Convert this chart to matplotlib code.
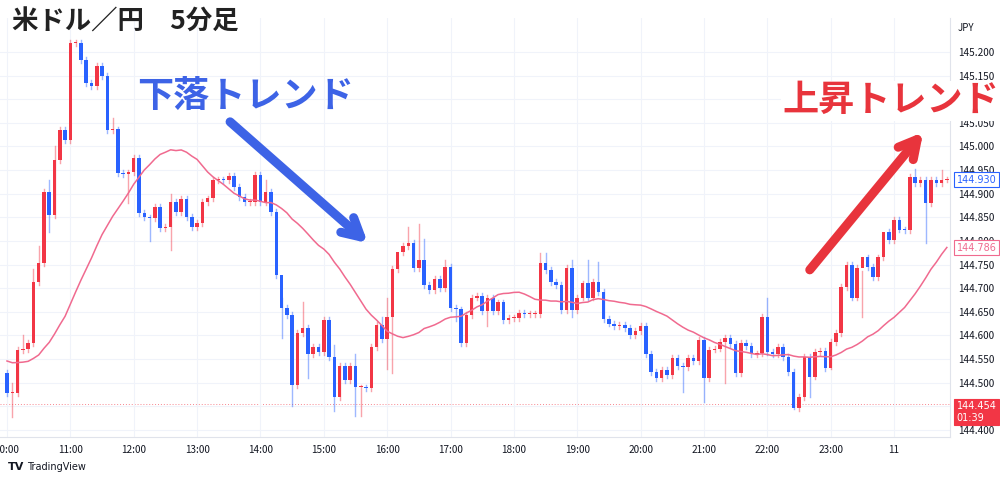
import numpy as np
import pandas as pd
import matplotlib.pyplot as plt
from matplotlib.patches import Rectangle

plt.rcParams['font.family'] = ['Noto Sans CJK JP', 'DejaVu Sans']

# USD/JPY 5-minute closes, 10:00 -> 00:50
closes = [
    144.478, 144.478, 144.569, 144.571, 144.584, 144.713, 144.753,
    144.903, 144.855, 144.971, 145.035, 145.013, 145.219, 145.22, 145.183,
    145.134, 145.128, 145.17, 145.149, 145.035, 145.036, 144.944,
    144.942, 144.945, 144.975,
    144.859, 144.85, 144.848, 144.872, 144.827, 144.83, 144.882, 144.861, 144.889, 144.851,
    144.829, 144.838, 144.882, 144.89, 144.929, 144.93, 144.929, 144.937, 144.914, 144.893,
    144.882, 144.882, 144.94, 144.882, 144.903, 144.861, 144.728,
    144.658, 144.643, 144.495, 144.605, 144.616, 144.56, 144.576, 144.565, 144.633, 144.555,
    144.47, 144.535, 144.505, 144.535, 144.49, 144.49, 144.488, 144.576, 144.622, 144.593,
    144.64, 144.74, 144.777, 144.79, 144.795, 144.743, 144.76, 144.707, 144.696, 144.72,
    144.70, 144.745, 144.658, 144.655, 144.584, 144.643, 144.68, 144.684, 144.652, 144.68,
    144.652, 144.67,
    144.633, 144.637, 144.637, 144.648, 144.645, 144.645, 144.645, 144.753, 144.738, 144.713,
    144.707, 144.654, 144.743, 144.654, 144.68, 144.71, 144.68, 144.713, 144.692, 144.635,
    144.625, 144.62, 144.622, 144.616, 144.6, 144.61, 144.62, 144.56, 144.523, 144.51,
    144.527, 144.516, 144.552, 144.535, 144.533, 144.552, 144.545, 144.59, 144.51, 144.57,
    144.572, 144.586, 144.595, 144.582, 144.52, 144.585, 144.577, 144.56, 144.562, 144.64,
    144.565, 144.56, 144.575, 144.555, 144.523, 144.447, 144.47, 144.555, 144.513, 144.565,
    144.567, 144.531, 144.586, 144.605, 144.703, 144.75, 144.68, 144.743, 144.765, 144.745,
    144.723, 144.765, 144.82, 144.802, 144.845, 144.824, 144.823, 144.935, 144.922, 144.93,
    144.88, 144.93, 144.922, 144.93, 144.93,
]
first_open = 144.521
# closes before 10:00, only used for the moving average
pre_closes = [144.57, 144.56, 144.55, 144.54, 144.56, 144.57, 144.55, 144.54, 144.53, 144.55,
              144.56, 144.57, 144.58, 144.56, 144.55, 144.54, 144.53, 144.55, 144.56, 144.55,
              144.54, 144.53, 144.52, 144.51]
# wick extremes that stand out (index -> price)
highs = {1: 144.50, 3: 144.60, 5: 144.74, 6: 144.79, 8: 144.93, 9: 145.0, 20: 145.06,
         31: 144.90, 49: 144.93, 52: 144.68, 56: 144.67, 62: 144.58, 66: 144.56, 71: 144.64,
         72: 144.68, 74: 144.75, 76: 144.83, 78: 144.835, 79: 144.805, 83: 144.76, 101: 144.775,
         102: 144.775, 107: 144.76, 110: 144.76, 112: 144.755, 144: 144.68, 162: 144.64,
         166: 144.78, 172: 144.952, 177: 144.95}
lows = {1: 144.427, 8: 144.82, 23: 144.88, 27: 144.80, 31: 144.78, 52: 144.595, 54: 144.45,
        57: 144.51, 62: 144.44, 66: 144.43, 67: 144.43, 72: 144.53, 73: 144.52, 85: 144.63,
        91: 144.62, 107: 144.64, 128: 144.48, 132: 144.46, 136: 144.50, 149: 144.445,
        152: 144.47, 156: 144.53, 174: 144.795}
hour_labels = ['10:00', '11:00', '12:00', '13:00', '14:00', '15:00', '16:00', '17:00',
               '18:00', '19:00', '20:00', '21:00', '22:00', '23:00', '11']
price_ticks = [144.40, 144.45, 144.50, 144.55, 144.60, 144.65, 144.70, 144.75, 144.80,
               144.85, 144.90, 144.95, 145.00, 145.05, 145.10, 145.15, 145.20]

RED = '#F23645'
BLUE = '#2962FF'
MA_COL = '#F06A8F'

c = np.array(closes)
o = np.concatenate([[first_open], c[:-1]])
n = len(c)
ma = pd.Series(pre_closes + closes).rolling(25, min_periods=1).mean().values[len(pre_closes):]

fig = plt.figure(figsize=(10, 4.8), dpi=100)
ax = fig.add_axes([0.0, 43 / 480, 0.95, 419 / 480])
ax.set_xlim(-7 / 5.28, (950 - 7) / 5.28)
ax.set_ylim(144.385, 145.272)

for i in range(n):
    up = c[i] >= o[i]
    col = RED if up else BLUE
    top, bot = max(o[i], c[i]), min(o[i], c[i])
    hi = highs.get(i, top + 0.006)
    lo = lows.get(i, bot - 0.006)
    ax.plot([i, i], [lo, hi], color=col, lw=1, alpha=0.45, zorder=2)
    h = max(top - bot, 0.002)
    ax.add_patch(Rectangle((i - 0.33, bot), 0.66, h, color=col, lw=0, zorder=3))

ax.plot(np.arange(n), ma, color=MA_COL, lw=1.1, zorder=4)
ax.axhline(144.454, color=RED, lw=0.7, ls=(0, (1, 2)), alpha=0.6, zorder=1)

ax.set_xticks(np.arange(0, 12 * len(hour_labels), 12))
ax.set_xticklabels(hour_labels)
ax.set_yticks(price_ticks)
ax.set_yticklabels(['%.3f' % p for p in price_ticks])
ax.yaxis.tick_right()
ax.tick_params(length=0, labelsize=7.2, labelcolor='#131722', pad=6)
ax.grid(True, color='#f0f3fa', lw=0.8)
for s in ['top', 'left']:
    ax.spines[s].set_visible(False)
for s in ['right', 'bottom']:
    ax.spines[s].set_color('#e0e3eb')

def price_tag(y, text, fc, ec, tc):
    ax.annotate(text, xy=(1.007, y), xycoords=('axes fraction', 'data'), fontsize=7,
                va='center', ha='left', color=tc, family='DejaVu Sans', annotation_clip=False,
                bbox=dict(boxstyle='square,pad=0.25', fc=fc, ec=ec, lw=0.8), zorder=6)

price_tag(144.930, '144.930', 'white', BLUE, BLUE)
price_tag(144.786, '144.786', 'white', MA_COL, MA_COL)
price_tag(144.438, '144.454\n01:39', RED, RED, 'white')
fig.text(0.958, 0.935, 'JPY', fontsize=7, color='#131722')

fig.text(0.012, 0.955, '米ドル／円　5分足', fontsize=19, weight='bold', color='#222222', va='center')
fig.text(0.137, 0.8, '下落トレンド', fontsize=26, weight='bold', color='#3D63E6', va='center')
fig.text(0.782, 0.79, '上昇トレンド', fontsize=26, weight='bold', color='#E8343C', va='center',
         bbox=dict(fc='white', ec='none', pad=1), zorder=10)

ax.annotate('', xy=(370, 480 - 245), xytext=(228, 480 - 120), xycoords='figure pixels',
            textcoords='figure pixels',
            arrowprops=dict(arrowstyle='->,head_length=1.3,head_width=0.7', color='#3D63E6',
                            lw=6.5, capstyle='round', joinstyle='round'))
ax.annotate('', xy=(925, 480 - 130), xytext=(808, 480 - 272), xycoords='figure pixels',
            textcoords='figure pixels',
            arrowprops=dict(arrowstyle='->,head_length=1.3,head_width=0.7', color='#E8343C',
                            lw=6.5, capstyle='round', joinstyle='round'))

fig.text(0.008, 0.027, 'TV', fontsize=8, weight='bold', color='#131722', va='center', family='DejaVu Sans')
fig.text(0.027, 0.027, 'TradingView', fontsize=7, color='#131722', va='center', family='DejaVu Sans')

fig.savefig('out.png', dpi=100)
